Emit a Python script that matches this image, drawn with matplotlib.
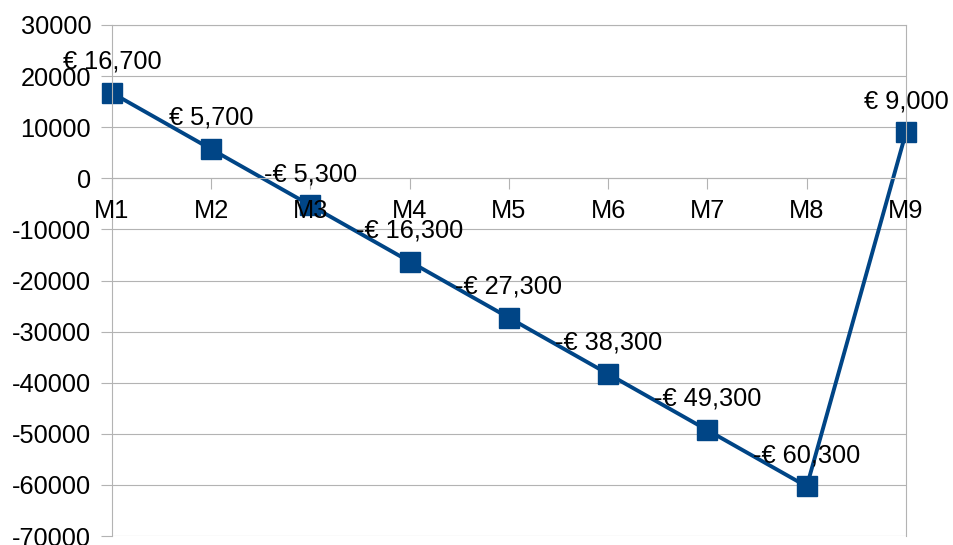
import matplotlib
matplotlib.use("Agg")
import matplotlib.pyplot as plt
from matplotlib.ticker import MultipleLocator, FuncFormatter

plt.rcParams['font.family'] = ['Liberation Sans', 'DejaVu Sans']
plt.rcParams['axes.unicode_minus'] = False

months = ["M1", "M2", "M3", "M4", "M5", "M6", "M7", "M8", "M9"]
values = [16700, 5700, -5300, -16300, -27300, -38300, -49300, -60300, 9000]

LINE = "#004586"
GRID = "#b3b3b3"
FS = 18.3

fig = plt.figure(figsize=(9.54, 5.45), dpi=100)
ax = fig.add_axes([112/954, 1-536/545, (906-112)/954, (536-25)/545])

x = list(range(len(months)))
ax.plot(x, values, color=LINE, lw=2.8, marker='s', ms=14.4, mec=LINE, mfc=LINE,
        zorder=2, clip_on=False)

def fmt_eur(v):
    s = f"€ {abs(v):,.0f}"
    return ("-" + s) if v < 0 else s

for xi, v in zip(x, values):
    ax.annotate(fmt_eur(v), (xi, v), xytext=(0, 22.5), textcoords='offset points',
                ha='center', va='center', fontsize=FS, color='black', zorder=4)

ax.set_xlim(0, len(months) - 1)
ax.set_ylim(-70000, 30000)
ax.yaxis.set_major_locator(MultipleLocator(10000))
ax.yaxis.set_major_formatter(FuncFormatter(lambda v, p: f"{v:.0f}"))
ax.set_xticks(x)
ax.set_xticklabels(months)

ax.grid(axis='y', color=GRID, lw=0.8)
ax.grid(axis='x', visible=False)

for s in ['left', 'right', 'top', 'bottom']:
    ax.spines[s].set_color(GRID)
    ax.spines[s].set_linewidth(0.8)
ax.spines['bottom'].set_position(('data', 0))

ax.tick_params(axis='y', length=8, width=0.8, color=GRID, labelsize=FS, pad=7, labelcolor='black')
ax.tick_params(axis='x', length=8, width=0.8, color=GRID, labelsize=FS, pad=7, labelcolor='black')

ax.yaxis.set_zorder(1)
ax.xaxis.set_zorder(3)

fig.savefig("out.png", dpi=100)
